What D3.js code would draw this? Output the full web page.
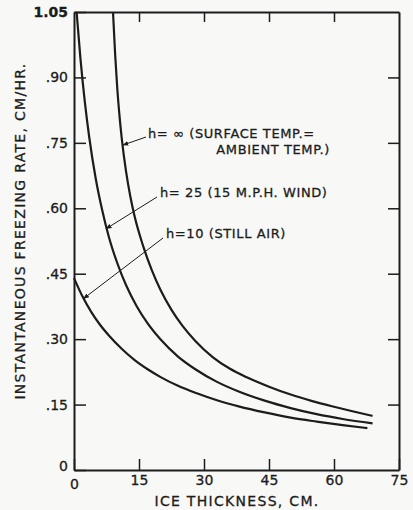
<!DOCTYPE html>
<html>
<head>
<meta charset="utf-8">
<script src="https://cdn.jsdelivr.net/npm/d3@7"></script>
<style>
  body { margin: 0; background: #f8f8f6; }
  svg { display: block; }
  text { font-family: "DejaVu Sans", sans-serif; fill: #1c1c1c; }
</style>
</head>
<body>
<svg id="chart"></svg>
<script>
// ice thickness (cm) and instantaneous freezing rate (cm/hr)
const thickInf = [9.0, 9.5, 10, 10.5, 11, 12, 13, 14, 16, 18, 20, 22.5, 25, 28, 32, 36, 40, 45, 50, 55, 60, 64.5, 68.9];
const rateInf  = [1.05, 0.952, 0.873, 0.812, 0.762, 0.685, 0.627, 0.581, 0.512, 0.457, 0.412, 0.367, 0.331, 0.296, 0.259, 0.232, 0.212, 0.191, 0.173, 0.158, 0.145, 0.134, 0.124];

const thick25 = [0.6, 1.5, 2.5, 3.5, 5, 6.5, 8, 10, 12, 14.5, 17, 20, 24, 28, 33, 38, 44, 50, 56, 62, 68.9];
const rate25  = [1.05, 0.942, 0.844, 0.764, 0.669, 0.596, 0.536, 0.474, 0.424, 0.375, 0.336, 0.299, 0.260, 0.231, 0.202, 0.180, 0.159, 0.142, 0.128, 0.117, 0.107];

const thick10 = [0, 2, 4, 6, 8, 11, 14, 17, 20, 24, 28, 33, 38, 44, 50, 56, 62, 67.7];
const rate10  = [0.44, 0.397, 0.362, 0.333, 0.309, 0.278, 0.252, 0.231, 0.213, 0.193, 0.177, 0.160, 0.146, 0.132, 0.120, 0.111, 0.103, 0.096];

const xTicks = [0, 15, 30, 45, 60, 75];
const yTicks = [0, 0.15, 0.30, 0.45, 0.60, 0.75, 0.90, 1.05];
const yTickLabels = ["0", ".15", ".30", ".45", ".60", ".75", ".90", "1.05"];

let config = { svg: {}, margin: {} };
config.svg.width = 413;
config.svg.height = 510;
config.margin.left = 74;
config.margin.right = 14;
config.margin.top = 12;
config.margin.bottom = 40;

let svg = d3.select("#chart")
  .attr("width", config.svg.width)
  .attr("height", config.svg.height);

let x = d3.scaleLinear()
  .domain([0, 75])
  .range([config.margin.left, config.svg.width - config.margin.right]);

let y = d3.scaleLinear()
  .domain([0, 1.05])
  .range([config.svg.height - config.margin.bottom, config.margin.top]);

let x0 = x.range()[0], x1 = x.range()[1];
let y0 = y.range()[0], y1 = y.range()[1];

// axes, ticks pointing inward on all four sides
let xaxis = d3.axisBottom(x).tickValues(xTicks).tickSize(-11).tickSizeOuter(0).tickPadding(5).tickFormat(d3.format("d"));
let yaxis = d3.axisLeft(y).tickValues(yTicks).tickSize(-12).tickSizeOuter(0).tickPadding(6)
  .tickFormat((d, i) => yTickLabels[i]);

let gx = svg.append("g").attr("transform", `translate(0,${y0})`).call(xaxis);
let gy = svg.append("g").attr("transform", `translate(${x0},0)`).call(yaxis);

svg.append("g").attr("transform", `translate(0,${y1})`)
  .call(d3.axisTop(x).tickValues(xTicks.slice(1, 5)).tickSize(-10).tickSizeOuter(0).tickFormat(""));
svg.append("g").attr("transform", `translate(${x1},0)`)
  .call(d3.axisRight(y).tickValues(yTicks.slice(1, 7)).tickSize(-11).tickSizeOuter(0).tickFormat(""));

svg.selectAll(".domain").attr("stroke", "#1c1c1c").attr("stroke-width", 2);
svg.selectAll(".tick line").attr("stroke", "#1c1c1c").attr("stroke-width", 1.5);
svg.selectAll(".tick text").style("font-size", "14px").attr("fill", "#1c1c1c")
  .attr("stroke", "#1c1c1c").attr("stroke-width", 0.3);

// nudge the two zeros apart like the original
gx.selectAll(".tick text").filter(d => d === 0).attr("dy", "1.0em");
gy.selectAll(".tick text").filter(d => d === 0).attr("dy", "0em");
gy.selectAll(".tick text").filter(d => d === 1.05).style("font-weight", "bold");

// curves
let line = d3.line()
  .x(d => x(d[0]))
  .y(d => y(d[1]))
  .curve(d3.curveMonotoneX);

let series = [
  d3.zip(thickInf, rateInf),
  d3.zip(thick25, rate25),
  d3.zip(thick10, rate10)
];

svg.append("g")
  .selectAll("path")
  .data(series)
  .enter()
  .append("path")
  .attr("d", line)
  .attr("fill", "none")
  .attr("stroke", "#1c1c1c")
  .attr("stroke-width", 2.2);

// arrowhead for the leader lines
svg.append("defs").append("marker")
  .attr("id", "arrow")
  .attr("viewBox", "0 0 10 10")
  .attr("refX", 9).attr("refY", 5)
  .attr("markerWidth", 6).attr("markerHeight", 6)
  .attr("orient", "auto")
  .append("path")
  .attr("d", "M0,1 L10,5 L0,9 Z")
  .attr("fill", "#1c1c1c");

// labels with leaders (leader end sits on the curve)
let labels = [
  { lines: ["h= \u221e (SURFACE TEMP.=", "AMBIENT TEMP.)"], tx: 148, ty: 138, from: [146, 137], to: [11.3, 0.745] },
  { lines: ["h= 25 (15 M.P.H. WIND)"], tx: 160, ty: 197, from: [157, 197], to: [7.4, 0.553] },
  { lines: ["h=10 (STILL AIR)"], tx: 166, ty: 238, from: [163, 238], to: [2.2, 0.393] }
];

labels.forEach(l => {
  svg.append("line")
    .attr("x1", l.from[0]).attr("y1", l.from[1])
    .attr("x2", x(l.to[0])).attr("y2", y(l.to[1]))
    .attr("stroke", "#1c1c1c")
    .attr("stroke-width", 1)
    .attr("marker-end", "url(#arrow)");
  let t = svg.append("text")
    .attr("x", l.tx).attr("y", l.ty)
    .style("font-size", "13px")
    .style("letter-spacing", "0.6px")
    .attr("stroke", "#1c1c1c").attr("stroke-width", 0.3);
  t.append("tspan").text(l.lines[0]);
  if (l.lines.length > 1) {
    t.append("tspan").attr("x", 330).attr("dy", "1.25em")
      .attr("text-anchor", "end").text(l.lines[1]);
  }
});

// axis titles
svg.append("text")
  .attr("transform", `translate(25, 231) rotate(-90)`)
  .attr("text-anchor", "middle")
  .style("font-size", "14px")
  .style("letter-spacing", "1.3px")
  .attr("stroke", "#1c1c1c").attr("stroke-width", 0.3)
  .text("INSTANTANEOUS FREEZING RATE, CM/HR.");

svg.append("text")
  .attr("x", 237)
  .attr("y", 506)
  .attr("text-anchor", "middle")
  .style("font-size", "14px")
  .style("letter-spacing", "1.3px")
  .attr("stroke", "#1c1c1c").attr("stroke-width", 0.3)
  .text("ICE THICKNESS, CM.");
</script>
</body>
</html>
